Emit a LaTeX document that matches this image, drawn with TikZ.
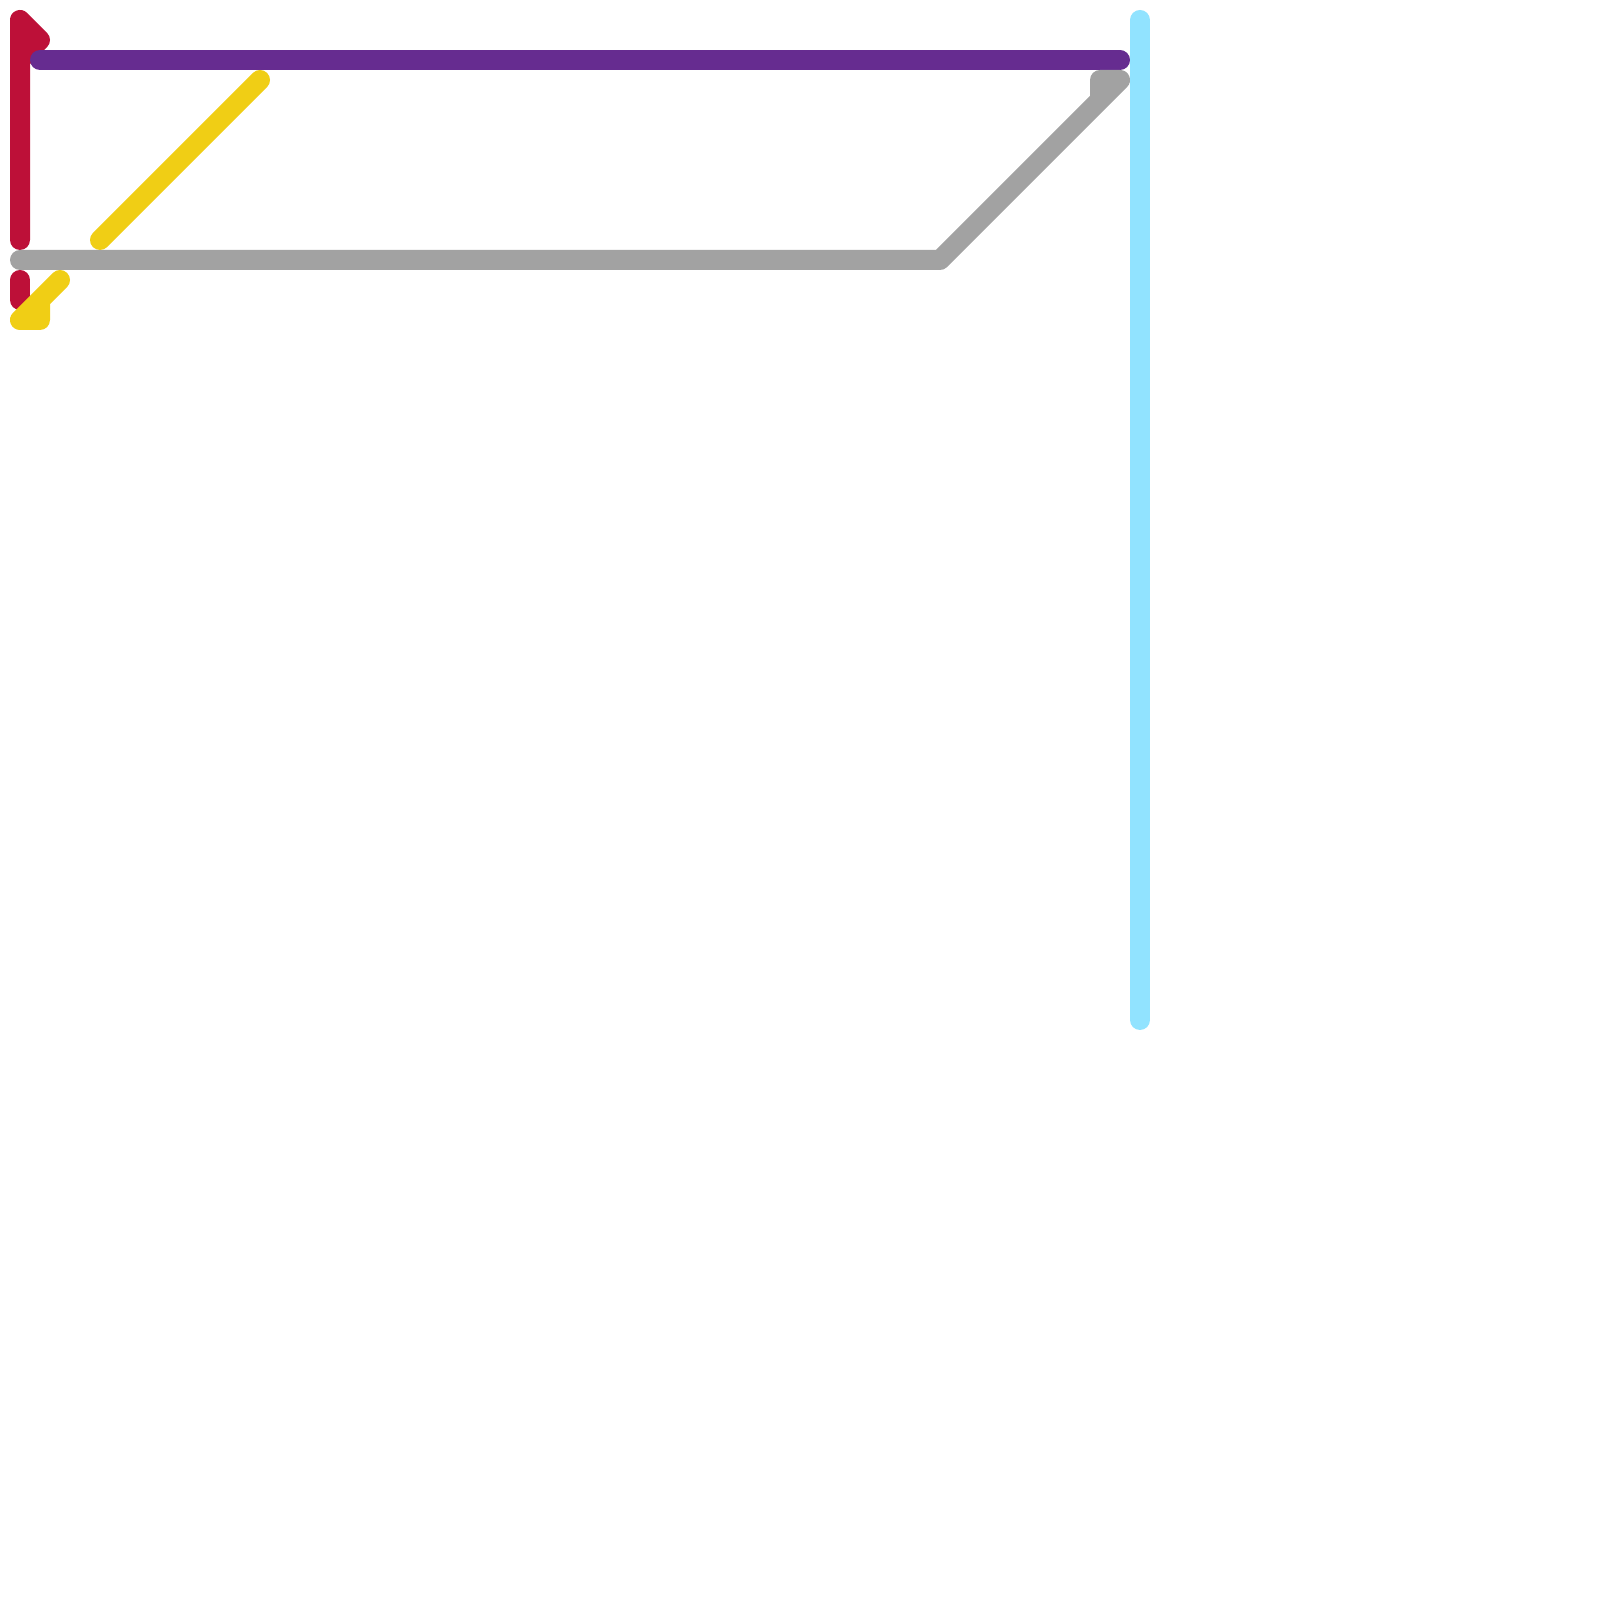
\documentclass[tikz,border=0pt]{standalone}
\usepackage{xcolor}
\usepackage{tikz}
\definecolor{linered}{HTML}{BD1038}
\definecolor{linepurple}{HTML}{662C90}
\definecolor{linegray}{HTML}{A2A2A2}
\definecolor{lineyellow}{HTML}{F0CE15}
\definecolor{linecyan}{HTML}{91E3FF}
\tikzset{route/.style={line width=0.2cm, line cap=round, line join=round}}

\begin{document}
\begin{tikzpicture}
      % Fix the page size
      \useasboundingbox (0,0) rectangle (16,16);
      % Define coordinates
      \coordinate (R1) at (0.2,13.6);
      \coordinate (R2) at (0.2,15.8);
      \coordinate (R3) at (0.4,15.6);
      \coordinate (R4) at (0.2,15.4);
      \coordinate (R5) at (0.2,13.2);
      \coordinate (R6) at (0.2,13.0);
      \coordinate (P1) at (0.4,15.4);
      \coordinate (P2) at (11.2,15.4);
      \coordinate (G1) at (0.2,13.4);
      \coordinate (G2) at (9.4,13.4);
      \coordinate (G3) at (11.2,15.2);
      \coordinate (G4) at (11.0,15.2);
      \coordinate (G5) at (11.0,15.0);
      \coordinate (Y1) at (1.0,13.6);
      \coordinate (Y2) at (2.6,15.2);
      \coordinate (Y3) at (0.6,13.2);
      \coordinate (Y4) at (0.2,12.8);
      \coordinate (Y5) at (0.4,12.8);
      \coordinate (Y6) at (0.4,13.0);
      \coordinate (C1) at (11.4,15.8);
      \coordinate (C2) at (11.4,5.8);
      % Red lines
      \draw[route, linered] (R1) -- (R2) -- (R3) -- (R4);
      \draw[route, linered] (R5) -- (R6);
      % Purple line
      \draw[route, linepurple] (P1) -- (P2);
      % Gray line
      \draw[route, linegray] (G1) -- (G2) -- (G3) -- (G4) -- (G5);
      % Yellow lines
      \draw[route, lineyellow] (Y1) -- (Y2);
      \draw[route, lineyellow] (Y3) -- (Y4) -- (Y5) -- (Y6);
      % Cyan line
      \draw[route, linecyan] (C1) -- (C2);
    \end{tikzpicture}
\end{document}
